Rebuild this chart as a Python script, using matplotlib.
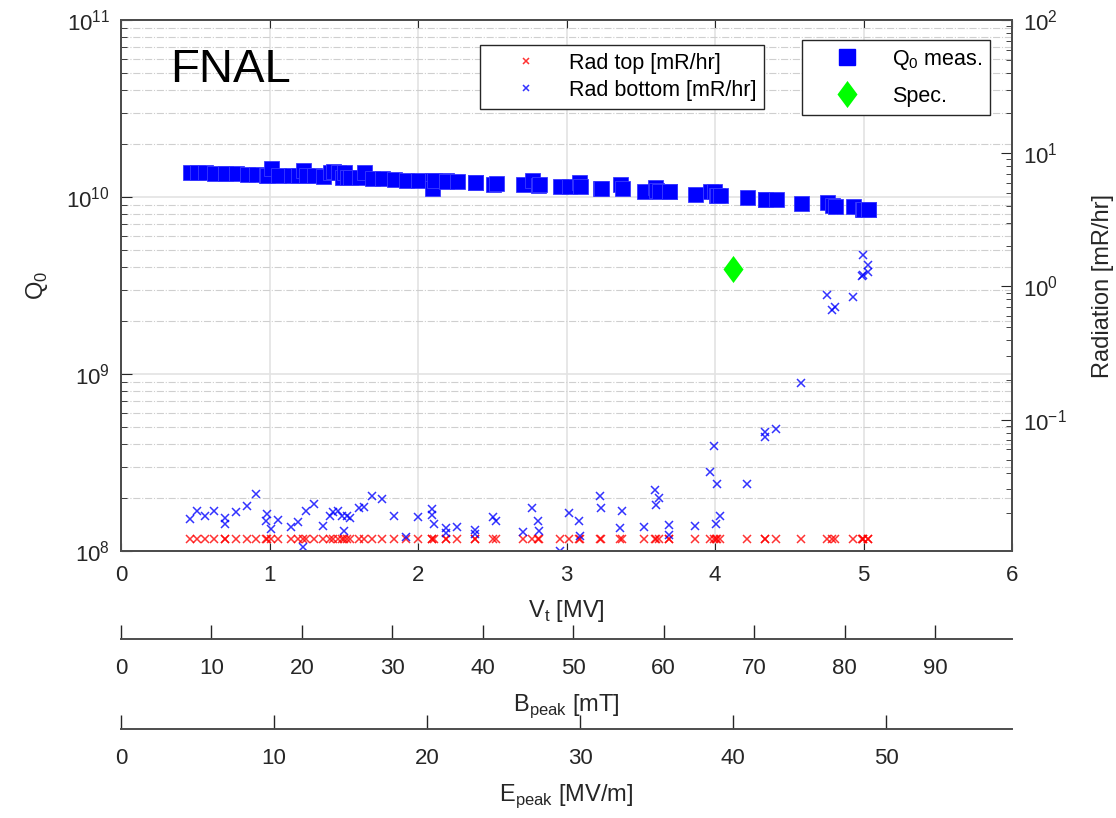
import numpy as np
import matplotlib
matplotlib.use('Agg')
import matplotlib.pyplot as plt
from matplotlib.lines import Line2D

plt.rcParams['font.family'] = ['Liberation Sans', 'DejaVu Sans']
plt.rcParams['mathtext.fontset'] = 'custom'
plt.rcParams['mathtext.rm'] = 'Liberation Sans'

# accelerating voltage of each measurement [MV]
v_t = [0.465, 0.510, 0.566, 0.628, 0.700, 0.700, 0.774, 0.846, 0.909, 0.974,
       0.981, 1.008, 1.057, 1.145, 1.194, 1.224, 1.244, 1.298, 1.358, 1.407,
       1.430, 1.463, 1.486, 1.504, 1.520, 1.542, 1.605, 1.636, 1.688, 1.760,
       1.838, 1.917, 2.002, 2.092, 2.092, 2.108, 2.189, 2.189, 2.261, 2.384,
       2.384, 2.507, 2.523, 2.705, 2.766, 2.810, 2.817, 2.956, 3.017, 3.084,
       3.091, 3.226, 3.230, 3.360, 3.372, 3.522, 3.596, 3.603, 3.625, 3.690,
       3.690, 3.865, 3.968, 3.993, 4.007, 4.011, 4.034, 4.218, 4.337, 4.337,
       4.411, 4.577, 4.752, 4.786, 4.808, 4.931, 4.988, 4.999, 4.999, 5.032,
       5.032]

# quality factor
q0 = [1.39e10, 1.38e10, 1.38e10, 1.37e10, 1.37e10, 1.36e10, 1.36e10, 1.35e10, 1.35e10, 1.34e10,
      1.34e10, 1.45e10, 1.34e10, 1.33e10, 1.33e10, 1.42e10, 1.34e10, 1.33e10, 1.31e10, 1.39e10,
      1.40e10, 1.39e10, 1.30e10, 1.39e10, 1.30e10, 1.30e10, 1.29e10, 1.39e10, 1.28e10, 1.28e10,
      1.27e10, 1.25e10, 1.24e10, 1.24e10, 1.12e10, 1.24e10, 1.24e10, 1.23e10, 1.23e10, 1.22e10,
      1.21e10, 1.19e10, 1.20e10, 1.185e10, 1.24e10, 1.175e10, 1.18e10, 1.155e10, 1.15e10, 1.22e10,
      1.15e10, 1.12e10, 1.12e10, 1.18e10, 1.12e10, 1.08e10, 1.14e10, 1.09e10, 1.08e10, 1.08e10,
      1.08e10, 1.045e10, 1.08e10, 1.08e10, 1.03e10, 1.02e10, 1.02e10, 1.00e10, 9.8e9, 9.8e9,
      9.7e9, 9.2e9, 9.33e9, 9.0e9, 8.95e9, 8.85e9, 8.6e9, 8.6e9, 8.6e9, 8.5e9,
      8.55e9]

# radiation [mR/hr]
rad_bottom = [0.0180, 0.0207, 0.0190, 0.0207, 0.0182, 0.0165, 0.0202, 0.0224, 0.0277, 0.0173,
              0.0196, 0.0151, 0.0176, 0.0156, 0.0170, 0.0111, 0.0205, 0.0233, 0.0160, 0.0190,
              0.0202, 0.0207, 0.0188, 0.0145, 0.0188, 0.0182, 0.0216, 0.0220, 0.0266, 0.0254,
              0.0190, 0.0131, 0.0185, 0.0214, 0.0193, 0.0165, 0.0154, 0.0141, 0.0156, 0.0150,
              0.0139, 0.0185, 0.0175, 0.0143, 0.0216, 0.0175, 0.0147, 0.0104, 0.0198, 0.0175,
              0.0135, 0.0269, 0.0216, 0.0153, 0.0205, 0.0158, 0.0298, 0.0229, 0.0257, 0.0163,
              0.0137, 0.0160, 0.0402, 0.0637, 0.0165, 0.0329, 0.0188, 0.0329, 0.0811, 0.0743,
              0.0859, 0.190, 0.861, 0.664, 0.700, 0.832, 1.19, 1.71, 1.23, 1.46,
              1.28]
rad_top = [0.0127] * len(v_t)

# specification point
spec_v = [4.12]
spec_q0 = [3.9e9]

# conversion of the accelerating voltage to peak fields
b_per_mv = 98.5 / 6.0   # mT per MV
e_per_mv = 58.2 / 6.0   # MV/m per MV

W, H = 1116, 818
fig = plt.figure(figsize=(W / 100, H / 100), dpi=100)
left, right, top, bottom = 121, 1012, 20, 551
ax = fig.add_axes([left / W, 1 - bottom / H, (right - left) / W, (bottom - top) / H])

spine_c = '#4d4d4d'
txt_c = '#262626'

ax.set_yscale('log')
ax.set_xlim(0, 6)
ax.set_ylim(1e8, 1e11)
ax.grid(True, which='major', color='#e3e3e3', linestyle='-', linewidth=1.2)
ax.grid(True, which='minor', axis='y', color='#cfcfcf', linestyle='-.', linewidth=0.8)
ax.set_axisbelow(True)

ax.plot(v_t, q0, 's', color='#0000ff', ms=10.8, mec='#3a3aff', mew=0.6,
        linestyle='none', label=r'Q$_\mathregular{0}$ meas.', zorder=3)
diamond = [(0, 1), (0.74, 0), (0, -1), (-0.74, 0), (0, 1)]
ax.plot(spec_v, spec_q0, marker=diamond, color='#00ff00', ms=19.5, mew=0,
        linestyle='none', label='Spec.', zorder=3)

ax.set_xticks(range(7))
ax.tick_params(axis='both', which='both', direction='in', labelsize=16,
               colors=txt_c, top=True, right=False)
ax.tick_params(axis='x', which='major', length=6, pad=10)
ax.tick_params(axis='y', which='major', length=8, pad=8)
ax.tick_params(axis='y', which='minor', length=4)
for s in ax.spines.values():
    s.set_color(spine_c)
    s.set_linewidth(1.4)
ax.set_xlabel(r'V$_\mathregular{t}$ [MV]', fontsize=17, color=txt_c, labelpad=9)
ax.set_ylabel(r'Q$_\mathregular{0}$', fontsize=17, color=txt_c, labelpad=12)

ax.text(0.33, 10 ** 10.715, 'FNAL', fontsize=34, color='black', va='center', ha='left')

# right axis: radiation
ax2 = ax.twinx()
ax2.set_yscale('log')
ax2.set_ylim(10 ** -1.985, 100)
ax2.plot(v_t, rad_top, 'x', color='#ff0000', ms=5.5, mew=1.1, alpha=0.8,
         label='Rad top [mR/hr]')
ax2.plot(v_t, rad_bottom, 'x', color='#0000ff', ms=5.5, mew=1.1, alpha=0.8,
         label='Rad bottom [mR/hr]')
ax2.set_yticks([0.1, 1, 10, 100])
ax2.tick_params(axis='y', which='both', direction='in', labelsize=16, colors=txt_c)
ax2.tick_params(axis='y', which='major', length=8, pad=8)
ax2.tick_params(axis='y', which='minor', length=4)
for s in ax2.spines.values():
    s.set_color(spine_c)
    s.set_linewidth(1.4)
ax2.set_ylabel('Radiation [mR/hr]', fontsize=17, color=txt_c, labelpad=18)

# legends
leg_fs = 15.5
leg1 = ax2.legend(loc='upper left', bbox_to_anchor=(480 / W, 1 - 45 / H),
                  bbox_transform=fig.transFigure, fontsize=leg_fs, frameon=True,
                  fancybox=False, edgecolor=txt_c, framealpha=1,
                  borderpad=0.35, handlelength=3.6, handletextpad=0.2,
                  labelspacing=0.3, markerscale=0.8, borderaxespad=0)
leg1.get_frame().set_linewidth(1.0)

handles = [Line2D([], [], marker='s', color='#0000ff', ms=12, linestyle='none'),
           Line2D([], [], marker=diamond, color='#00ff00', ms=19.5, mew=0, linestyle='none')]
leg2 = fig.legend(handles, [r'Q$_\mathregular{0}$ meas.', 'Spec.'], loc='upper left',
                  bbox_to_anchor=(802 / W, 1 - 40 / H), fontsize=leg_fs, frameon=True,
                  fancybox=False, edgecolor=txt_c, framealpha=1,
                  borderpad=0.37, handlelength=3.4, handletextpad=0.4,
                  labelspacing=0.65, borderaxespad=0)
leg2.get_frame().set_linewidth(1.0)
leg2.set_zorder(10)

# extra x axes for peak fields
def add_field_axis(loc, factor, ticks, label):
    sec = ax.secondary_xaxis(loc, functions=(lambda v: v * factor, lambda f: f / factor))
    sec.set_xticks(ticks)
    sec.tick_params(axis='x', direction='in', length=10, pad=14, labelsize=16,
                    colors=txt_c, width=1.0)
    sec.spines['bottom'].set_color(spine_c)
    sec.spines['bottom'].set_linewidth(1.4)
    sec.set_xlabel(label, fontsize=17, color=txt_c, labelpad=9)
    return sec

axis_h = bottom - top
add_field_axis(-(639 - bottom) / axis_h, b_per_mv, list(range(0, 100, 10)),
               r'B$_\mathregular{peak}$ [mT]')
add_field_axis(-(729 - bottom) / axis_h, e_per_mv, list(range(0, 60, 10)),
               r'E$_\mathregular{peak}$ [MV/m]')

fig.savefig('out.png', dpi=100)
